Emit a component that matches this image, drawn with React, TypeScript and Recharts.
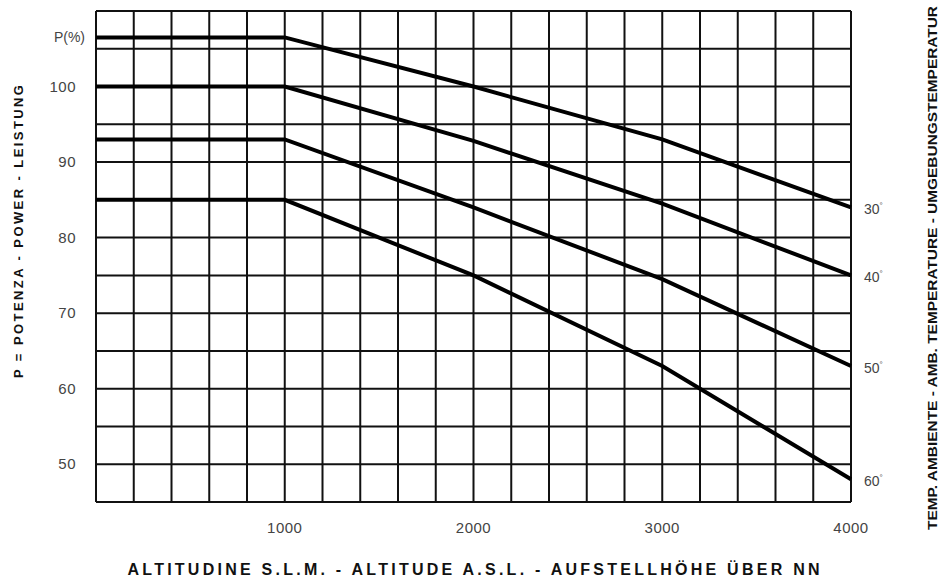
import { LineChart, Line, XAxis, YAxis, CartesianGrid, Label } from "recharts";

// altitude (m) and power (%) per ambient temperature curve
const altitude = [0, 1000, 2000, 3000, 4000];
const power30 = [106.5, 106.5, 100, 93, 84];
const power40 = [100, 100, 92.8, 84.5, 75];
const power50 = [93, 93, 84, 74.5, 63];
const power60 = [85, 85, 75, 63, 48];
const temps = ["30", "40", "50", "60"];

const xGrid = [0, 200, 400, 600, 800, 1000, 1200, 1400, 1600, 1800, 2000, 2200, 2400, 2600, 2800, 3000, 3200, 3400, 3600, 3800, 4000];
const yGrid = [45, 50, 55, 60, 65, 70, 75, 80, 85, 90, 95, 100, 105, 110];
const xLabels = [1000, 2000, 3000, 4000];
const yLabels = [50, 60, 70, 80, 90, 100];

const data = altitude.map((a, i) => ({
  alt: a,
  t30: power30[i],
  t40: power40[i],
  t50: power50[i],
  t60: power60[i],
}));

const FONT = "'Liberation Sans', Arial, sans-serif";
const TICK = "#444";

const XTick = (p: any) => {
  if (!xLabels.includes(p.payload.value)) return <g />;
  return (
    <text x={p.x} y={p.y} dy={23} textAnchor="middle" fontFamily={FONT} fontSize={15} fill={TICK} letterSpacing={0.5}>
      {p.payload.value}
    </text>
  );
};

const YTick = (p: any) => {
  if (!yLabels.includes(p.payload.value)) return <g />;
  return (
    <text x={p.x - 12} y={p.y} dy={5} textAnchor="end" fontFamily={FONT} fontSize={15} fill={TICK} letterSpacing={0.5}>
      {p.payload.value}
    </text>
  );
};

const endLabel = (temp: string, first?: boolean) => (p: any) => {
  if (first && p.index === 0) {
    return (
      <text x={p.x - 11} y={p.y} dy={5} textAnchor="end" fontFamily={FONT} fontSize={14} fill={TICK}>
        P(%)
      </text>
    );
  }
  if (p.index !== altitude.length - 1) return <g />;
  return (
    <text x={p.x + 13} y={p.y} dy={7} fontFamily={FONT} fontSize={14} fill={TICK}>
      {temp}
      <tspan fontSize={8} dy={-6}>°</tspan>
    </text>
  );
};

const XTitle = (p: any) => {
  const vb = p.viewBox;
  return (
    <text x={vb.x + vb.width / 2} y={581 - 6} textAnchor="middle" fontFamily={FONT} fontWeight="bold" fontSize={16}
      fill="#111" textLength={692} lengthAdjust="spacing">
      ALTITUDINE S.L.M. - ALTITUDE A.S.L. - AUFSTELLHÖHE ÜBER NN
    </text>
  );
};

const YTitle = () => (
  <text x={0} y={0} transform="translate(23 378) rotate(-90)" fontFamily={FONT} fontWeight="bold" fontSize={13}
    fill="#111" textLength={293} lengthAdjust="spacing">
    P = POTENZA - POWER - LEISTUNG
  </text>
);

const RTitle = () => (
  <text x={0} y={0} transform="translate(937 530) rotate(-90)" fontFamily={FONT} fontWeight="bold" fontSize={13}
    fill="#111" textLength={524} lengthAdjust="spacingAndGlyphs">
    TEMP. AMBIENTE - AMB. TEMPERATURE - UMGEBUNGSTEMPERATUR
  </text>
);

export default function App() {
  return (
    <div style={{ position: "absolute", left: 0, top: 0, width: 943, height: 581, background: "#fff" }}>
      <LineChart width={943} height={581} data={data} margin={{ top: 11, right: 0, bottom: 0, left: 0 }}>
        <CartesianGrid yAxisId="l" stroke="#111" strokeWidth={2} />
        <XAxis dataKey="alt" type="number" domain={[0, 4000]} ticks={xGrid} interval={0}
          tick={XTick} tickLine={false} axisLine={false} height={79}>
          <Label content={XTitle} />
        </XAxis>
        <YAxis yAxisId="l" type="number" domain={[45, 110]} ticks={yGrid} interval={0}
          tick={YTick} tickLine={false} axisLine={false} width={96}>
          <Label content={YTitle} />
        </YAxis>
        <YAxis yAxisId="r" orientation="right" type="number" domain={[45, 110]} ticks={[]}
          tick={false} tickLine={false} axisLine={false} width={92}>
          <Label content={RTitle} />
        </YAxis>
        <Line yAxisId="l" dataKey="t30" stroke="#000" strokeWidth={4} dot={false} isAnimationActive={false} label={endLabel(temps[0], true)} />
        <Line yAxisId="l" dataKey="t40" stroke="#000" strokeWidth={4} dot={false} isAnimationActive={false} label={endLabel(temps[1])} />
        <Line yAxisId="l" dataKey="t50" stroke="#000" strokeWidth={4} dot={false} isAnimationActive={false} label={endLabel(temps[2])} />
        <Line yAxisId="l" dataKey="t60" stroke="#000" strokeWidth={4} dot={false} isAnimationActive={false} label={endLabel(temps[3])} />
      </LineChart>
    </div>
  );
}
